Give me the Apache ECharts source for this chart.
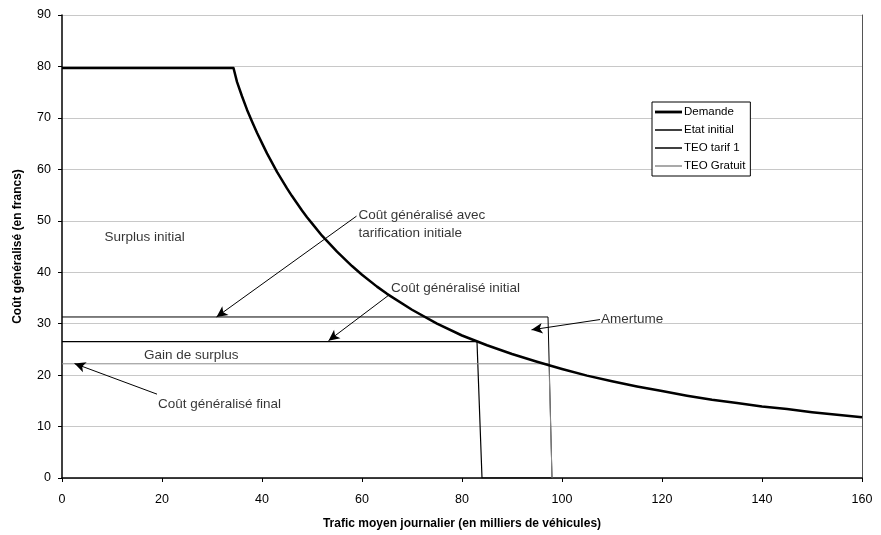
<!DOCTYPE html>
<html>
<head>
<meta charset="utf-8">
<script src="https://cdn.jsdelivr.net/npm/echarts@6/dist/echarts.min.js"></script>
<style>
html,body{margin:0;padding:0;background:#fff;}
#chart{width:881px;height:535px;}
</style>
</head>
<body>
<div id="chart"></div>
<script>
// ---- data ----
const seriesNames = ['Demande', 'Etat initial', 'TEO tarif 1', 'TEO Gratuit'];

const demandX = [0, 34.3, 35, 36, 37, 38, 39, 40, 41, 42, 43, 44, 45, 46, 47, 48, 49, 50, 52, 55, 58, 60, 63, 65, 70, 75, 80, 85, 90, 95, 100, 105, 110, 115, 120, 125, 130, 135, 140, 145, 150, 155, 160];
const demandY = [79.7, 79.7, 77.0, 74.2, 71.6, 69.3, 67.1, 65.1, 63.1, 61.3, 59.5, 57.9, 56.3, 54.8, 53.4, 52.0, 50.7, 49.5, 47.1, 44.0, 41.2, 39.5, 37.2, 35.8, 32.7, 30.0, 27.7, 25.8, 24.1, 22.6, 21.2, 19.9, 18.8, 17.8, 16.9, 16.0, 15.2, 14.6, 13.9, 13.4, 12.8, 12.3, 11.8];

const etatX = [0, 97.2, 98];
const etatY = [31.3, 31.3, 0];

const tarifX = [0, 83, 84, 98];
const tarifY = [26.5, 26.5, 0, 0];

const gratuitX = [0, 97.4, 98];
const gratuitY = [22.2, 22.2, 0];

const annotationTexts = ['Surplus initial', 'Coût généralisé avec\ntarification initiale', 'Coût généralisé initial', 'Gain de surplus', 'Coût généralisé final', 'Amertume'];
const annotationX = [8.5, 59.3, 65.8, 16.4, 19.2, 107.8];
const annotationY = [46.7, 49.4, 36.8, 23.8, 14.3, 30.9];

const arrowFromX = [58.9, 65.3, 19.0, 107.6];
const arrowFromY = [50.9, 35.5, 16.3, 30.8];
const arrowToX = [30.9, 53.3, 2.5, 93.9];
const arrowToY = [31.3, 26.7, 22.25, 28.8];

// ---- build ----
const zip = (xs, ys) => xs.map((x, i) => [x, ys[i]]);
const FONT = '"Liberation Sans", Arial, sans-serif';
const lineIcon = w => 'path://M0,0H27V' + w + 'H0Z';
const legendWidths = [2.8, 1.5, 1.5, 1.5];

const arrowLines = arrowFromX.map((x, i) => [
  { coord: [x, arrowFromY[i]] },
  { coord: [arrowToX[i], arrowToY[i]] }
]);

const chart = echarts.init(document.getElementById('chart'), null, { renderer: 'canvas' });
chart.setOption({
  animation: false,
  backgroundColor: '#fff',
  textStyle: { fontFamily: FONT, color: '#000' },
  grid: { left: 62, right: 19, top: 15, bottom: 52, containLabel: false },
  legend: {
    data: seriesNames.map((n, i) => ({ name: n, icon: lineIcon(legendWidths[i]) })),
    orient: 'vertical',
    left: 652,
    top: 102,
    padding: [4, 5, 4, 3],
    itemWidth: 27,
    itemHeight: 12,
    itemGap: 6,
    symbolKeepAspect: true,
    backgroundColor: '#fff',
    borderColor: '#000',
    borderWidth: 1,
    borderRadius: 0,
    textStyle: { fontFamily: FONT, fontSize: 11.5, color: '#000', padding: [0, 0, 0, -3] },
    selectedMode: false
  },
  xAxis: {
    type: 'value',
    min: 0, max: 160, interval: 20,
    name: 'Trafic moyen journalier (en milliers de véhicules)',
    nameLocation: 'middle',
    nameGap: 40,
    nameTextStyle: { fontFamily: FONT, fontSize: 12, fontWeight: 'bold', color: '#000' },
    axisLine: { show: true, onZero: false, lineStyle: { color: '#000', width: 1.5 } },
    axisTick: { show: true, inside: false, length: 4, lineStyle: { color: '#000' } },
    axisLabel: { fontFamily: FONT, fontSize: 12.5, color: '#000', margin: 15 },
    splitLine: { show: false }
  },
  yAxis: [{
    type: 'value',
    min: 0, max: 90, interval: 10,
    name: 'Coût généralisé (en francs)',
    nameLocation: 'middle',
    nameGap: 38,
    nameRotate: 90,
    nameTextStyle: { fontFamily: FONT, fontSize: 12, fontWeight: 'bold', color: '#000' },
    axisLine: { show: true, onZero: false, lineStyle: { color: '#000', width: 1.5 } },
    axisTick: { show: true, inside: false, length: 4, lineStyle: { color: '#000' } },
    axisLabel: { fontFamily: FONT, fontSize: 12.5, color: '#000', margin: 11 },
    splitLine: { show: true, lineStyle: { color: '#c8c8c8', width: 1 } }
  }, {
    type: 'value',
    position: 'right',
    min: 0, max: 90, interval: 10,
    axisLine: { show: true, onZero: false, lineStyle: { color: '#555', width: 1 } },
    axisTick: { show: false },
    axisLabel: { show: false },
    splitLine: { show: false }
  }],
  series: [
    {
      name: seriesNames[0], type: 'line', data: zip(demandX, demandY),
      showSymbol: false, z: 5,
      lineStyle: { color: '#000', width: 2.5, join: 'round' }, itemStyle: { color: '#000' }
    },
    {
      name: seriesNames[1], type: 'line', data: zip(etatX, etatY),
      showSymbol: false, z: 4,
      lineStyle: { color: '#000', width: 1 }, itemStyle: { color: '#000' }
    },
    {
      name: seriesNames[2], type: 'line', data: zip(tarifX, tarifY),
      showSymbol: false, z: 4,
      lineStyle: { color: '#000', width: 1.2 }, itemStyle: { color: '#000' }
    },
    {
      name: seriesNames[3], type: 'line', data: zip(gratuitX, gratuitY),
      showSymbol: false, z: 4,
      lineStyle: { color: '#8c8c8c', width: 1 }, itemStyle: { color: '#8c8c8c' }
    },
    {
      name: 'annotations', type: 'scatter',
      data: annotationTexts.map((t, i) => ({ value: [annotationX[i], annotationY[i]], name: t })),
      symbolSize: 0, z: 6, silent: true,
      label: {
        show: true, position: 'right', distance: 0,
        formatter: p => p.name,
        fontFamily: FONT, fontSize: 13.5, color: '#000',
        align: 'left', verticalAlign: 'middle', lineHeight: 18
      },
      markLine: {
        silent: true,
        symbol: ['none', 'arrow'],
        symbolSize: [8, 11],
        label: { show: false },
        lineStyle: { color: '#000', width: 1, type: 'solid' },
        emphasis: { disabled: true },
        data: arrowLines
      }
    }
  ]
});
</script>
</body>
</html>
